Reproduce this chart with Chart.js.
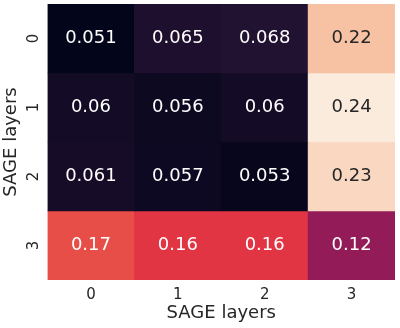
<!DOCTYPE html>
<html>
<head>
<meta charset="utf-8">
<script src="https://cdn.jsdelivr.net/npm/chart.js@4"></script>
<style>
  html, body { margin: 0; padding: 0; background: #fff; }
  #wrap { width: 400px; height: 328px; }
</style>
</head>
<body>
<div id="wrap"><canvas id="heatmap"></canvas></div>
<script>
const colLabels = ["0", "1", "2", "3"];
const rowLabels = ["0", "1", "2", "3"];
const row0 = [0.051, 0.065, 0.068, 0.22];
const row1 = [0.06, 0.056, 0.06, 0.24];
const row2 = [0.061, 0.057, 0.053, 0.23];
const row3 = [0.17, 0.16, 0.16, 0.12];
const values = [row0, row1, row2, row3];
const axisTitle = "SAGE layers";

const FONT = "DejaVu Sans";
const INK = "#262626";

// seaborn "rocket" colormap, coarse stops
const rocket = [
  [0, "#03051a"], [1 / 7, "#35193e"], [2 / 7, "#701f57"], [3 / 7, "#ad1759"],
  [4 / 7, "#e13342"], [5 / 7, "#f37651"], [6 / 7, "#f6b48f"], [1, "#faebdd"]
];
const vmin = Math.min(...values.flat());
const vmax = Math.max(...values.flat());

const hexRgb = (h) => [1, 3, 5].map((k) => parseInt(h.slice(k, k + 2), 16));

function rgbFor(v) {
  const t = Math.max(0, Math.min(1, (v - vmin) / (vmax - vmin)));
  for (let k = 1; k < rocket.length; k++) {
    const [t1, c1] = rocket[k];
    const [t0, c0] = rocket[k - 1];
    if (t <= t1) {
      const f = (t - t0) / (t1 - t0);
      const a = hexRgb(c0), b = hexRgb(c1);
      return a.map((x, i) => Math.round(x + (b[i] - x) * f));
    }
  }
  return hexRgb(rocket[rocket.length - 1][1]);
}

const colorFor = (v) => `rgb(${rgbFor(v).join(",")})`;

function textColorFor(v) {
  const lin = rgbFor(v).map((c) => {
    c /= 255;
    return c <= 0.03928 ? c / 12.92 : Math.pow((c + 0.055) / 1.055, 2.4);
  });
  const lum = 0.2126 * lin[0] + 0.7152 * lin[1] + 0.0722 * lin[2];
  return lum > 0.408 ? INK : "#ffffff";
}

const cellText = {
  id: "cellText",
  afterDatasetsDraw(chart) {
    const ctx = chart.ctx;
    ctx.save();
    ctx.font = `18px "${FONT}"`;
    ctx.textAlign = "center";
    ctx.textBaseline = "middle";
    chart.data.datasets.forEach((ds, i) => {
      chart.getDatasetMeta(i).data.forEach((bar, j) => {
        const p = bar.getCenterPoint();
        ctx.fillStyle = textColorFor(values[i][j]);
        ctx.fillText(String(values[i][j]), p.x, p.y);
      });
    });
    ctx.restore();
  }
};

new Chart(document.getElementById("heatmap"), {
  type: "bar",
  data: {
    labels: colLabels,
    datasets: rowLabels.map((r, i) => ({
      label: r,
      data: colLabels.map(() => [i, i + 1]),
      yAxisID: "yv",
      backgroundColor: values[i].map(colorFor),
      borderWidth: 0,
      barPercentage: 1,
      categoryPercentage: 1,
      grouped: false
    }))
  },
  options: {
    responsive: true,
    maintainAspectRatio: false,
    animation: false,
    layout: { padding: { top: 4, right: 5, left: 0, bottom: 0 } },
    plugins: { legend: { display: false }, tooltip: { enabled: false } },
    scales: {
      x: {
        grid: { display: false, drawTicks: false },
        border: { display: false },
        ticks: { color: INK, font: { family: FONT, size: 15 }, padding: 6 },
        title: {
          display: true, text: axisTitle, color: INK,
          font: { family: FONT, size: 18 }, padding: { top: 0, bottom: 4 }
        },
        afterFit: (s) => {
          s.height = 48;
          s.paddingLeft = 0;
          s.paddingRight = 0;
        }
      },
      y: {
        type: "category",
        labels: rowLabels,
        offset: true,
        position: "left",
        grid: { display: false, drawTicks: false },
        border: { display: false },
        ticks: {
          color: INK, font: { family: FONT, size: 15 },
          minRotation: 90, maxRotation: 90, crossAlign: "center", padding: 9
        },
        title: {
          display: true, text: axisTitle, color: INK,
          font: { family: FONT, size: 18 }, padding: { top: 1, bottom: 0 }
        },
        afterFit: (s) => {
          s.width = 47.5;
          s.paddingTop = 0;
          s.paddingBottom = 0;
        }
      },
      yv: { type: "linear", display: false, min: 0, max: 4, reverse: true }
    }
  },
  plugins: [cellText]
});
</script>
</body>
</html>
